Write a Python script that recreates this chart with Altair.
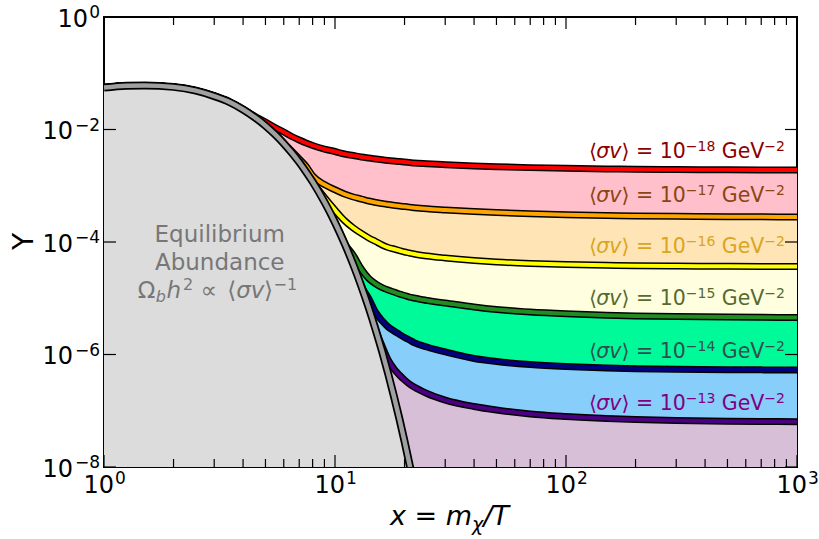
import altair as alt
import pandas as pd

# ---------------- data ----------------
X = [1, 1.25, 1.5, 2, 2.5, 3, 3.5, 4, 4.5, 5, 5.5, 6, 6.5, 7, 7.5, 8, 9, 10,
     11, 12, 13, 14, 15, 16, 17, 18, 19, 20, 21, 22, 25, 30, 40, 50, 70, 100,
     150, 200, 300, 500, 700, 1000]

# equilibrium abundance (x = 1 ... 22)
EQ = [0.0556, 0.0600, 0.0608, 0.0572, 0.0490, 0.0392, 0.0307, 0.0227, 0.0164,
      0.0117, 0.00817, 0.00565, 0.00386, 0.00262, 0.00176, 0.00118, 5.16e-4,
      2.23e-4, 9.44e-5, 3.96e-5, 1.64e-5, 6.75e-6, 2.75e-6, 1.12e-6, 4.50e-7,
      1.80e-7, 7.19e-8, 2.86e-8, 1.13e-8, 4.46e-9]

SV18 = EQ[:8] + [0.0172, 0.0136, 0.01086, 9.03e-3, 7.51e-3, 6.5e-3, 5.75e-3, 5.2e-3,
                 4.5e-3, 4.06e-3, 3.67e-3, 3.45e-3, 3.25e-3, 3.11e-3, 2.99e-3, 2.89e-3,
                 2.81e-3, 2.75e-3, 2.70e-3, 2.64e-3, 2.59e-3, 2.54e-3,
                 2.46e-3, 2.37e-3, 2.25e-3, 2.18e-3, 2.10e-3, 2.04e-3, 1.99e-3,
                 1.96e-3, 1.94e-3, 1.92e-3, 1.91e-3, 1.905e-3]
SV17 = EQ[:12] + [0.0041, 3.0e-3, 2.2e-3, 1.5e-3,
                  1.05e-3, 8.5e-4, 7.13e-4, 6.31e-4, 5.81e-4, 5.36e-4, 5.04e-4, 4.83e-4,
                  4.64e-4, 4.49e-4, 4.36e-4, 4.26e-4, 4.17e-4, 4.08e-4,
                  3.89e-4, 3.71e-4, 3.48e-4, 3.34e-4, 3.17e-4, 3.05e-4, 2.96e-4,
                  2.91e-4, 2.86e-4, 2.82e-4, 2.80e-4, 2.78e-4]
SV16 = EQ[:16] + [6.2e-4,
                  3.7e-4, 2.4e-4, 1.78e-4, 1.42e-4, 1.18e-4, 1.02e-4, 8.85e-5,
                  7.98e-5, 7.51e-5, 7.06e-5, 6.64e-5, 6.37e-5, 6.12e-5,
                  5.64e-5, 5.20e-5, 4.69e-5, 4.41e-5, 4.15e-5, 3.98e-5, 3.85e-5,
                  3.79e-5, 3.74e-5, 3.70e-5, 3.68e-5, 3.67e-5]
SV15 = EQ[:19] + [5.8e-5, 3.3e-5, 2.25e-5, 1.80e-5, 1.55e-5, 1.40e-5, 1.29e-5,
                  1.19e-5, 1.12e-5, 1.05e-5, 1.01e-5,
                  9.12e-6, 8.24e-6, 6.99e-6, 6.31e-6, 5.70e-6, 5.30e-6, 5.00e-6,
                  4.86e-6, 4.72e-6, 4.62e-6, 4.58e-6, 4.55e-6]
SV14 = EQ[:21] + [9.8e-6, 5.6e-6, 3.98e-6, 3.08e-6, 2.62e-6, 2.28e-6, 2.00e-6,
                  1.81e-6, 1.63e-6,
                  1.36e-6, 1.11e-6, 8.49e-7, 7.51e-7, 6.64e-7, 6.12e-7, 5.75e-7,
                  5.60e-7, 5.46e-7, 5.37e-7, 5.33e-7, 5.30e-7]
SV13 = EQ[:23] + [1.4e-6, 7.9e-7, 5.55e-7, 4.32e-7, 3.52e-7, 2.99e-7, 2.64e-7,
                  2.03e-7, 1.55e-7, 1.19e-7, 1.03e-7, 8.75e-8, 7.9e-8, 7.28e-8,
                  6.99e-8, 6.71e-8, 6.52e-8, 6.44e-8, 6.38e-8]

CURVES = [SV18, SV17, SV16, SV15, SV14, SV13]
SERIES = ["s18", "s17", "s16", "s15", "s14", "s13"]
LINE_COLORS = ["#FF0000", "#FFA500", "#FFFF00", "#228B22", "#000080", "#4B0082"]
FILL_COLORS = ["#FFC0CB", "#FFE4B5", "#FFFFE0", "#00FA9A", "#87CEFA", "#D8BFD8"]
LABEL_COLORS = ["#8B0000", "#8B4513", "#DAA520", "#556B2F", "#2F4F4F", "#800080"]
LABEL_EXP = ["−18", "−17", "−16", "−15", "−14", "−13"]
LABEL_Y = [3.11e-3, 5.20e-4, 6.37e-5, 7.59e-6, 8.67e-7, 1.03e-7]
LABEL_X = 887

EQ_TEXT_X = 3.17
EQ_TEXT_Y = [1.0e-4, 3.18e-5, 1.01e-5]

X_MAJOR = [1, 10, 100, 1000]
X_MAJOR_EXP = ["0", "1", "2", "3"]
X_MINOR = [2, 3, 4, 5, 6, 7, 8, 9, 20, 30, 40, 50, 60, 70, 80, 90,
           200, 300, 400, 500, 600, 700, 800, 900]
Y_MAJOR = [1, 1e-2, 1e-4, 1e-6, 1e-8]
Y_MAJOR_EXP = ["0", "−2", "−4", "−6", "−8"]

FLOOR = 1e-8
FONT = "DejaVu Sans"

# approximate DejaVu Sans advance widths (em) used to lay out mixed-size text
ADV = {" ": 0.318, "=": 0.838, "−": 0.838, "G": 0.775, "e": 0.615, "V": 0.684,
       "σ": 0.602, "v": 0.592, "⟨": 0.39, "⟩": 0.39, "Ω": 0.765, "b": 0.635,
       "h": 0.634, "∝": 0.838, "x": 0.592, "m": 0.974, "χ": 0.6, "/": 0.337, "T": 0.611}


def width(s, size):
    return sum(ADV.get(ch, 0.636) for ch in s) * size


# ---------------- tables ----------------
wide = pd.DataFrame({"x": X, "floor": [FLOOR] * len(X)})
for name, vals in zip(SERIES, CURVES):
    wide[name] = vals
long = wide.melt(id_vars=["x"], value_vars=SERIES, var_name="series", value_name="y")
eq_df = pd.DataFrame({"x": X[:len(EQ)], "y": EQ, "floor": [FLOOR] * len(EQ)})
lab_df = pd.DataFrame({"x": [LABEL_X] * 6, "y": LABEL_Y, "e": LABEL_EXP, "c": LABEL_COLORS})
xmaj = pd.DataFrame({"v": X_MAJOR, "e": X_MAJOR_EXP, "b": ["10"] * 4, "yb": [FLOOR] * 4})
xmin = pd.DataFrame({"v": X_MINOR})
ymaj = pd.DataFrame({"v": Y_MAJOR, "e": Y_MAJOR_EXP, "b": ["10"] * 5, "xl": [1] * 5})
corner = pd.DataFrame({"x": [1], "y": [FLOOR]})

xs = alt.Scale(type="log", domain=[1, 1000], nice=False)
ys = alt.Scale(type="log", domain=[FLOOR, 1], nice=False)
yaxis = alt.Axis(title="Y", labels=False, ticks=False, domain=False, grid=False,
                 titleFont=FONT, titleFontSize=28, titleFontWeight="normal",
                 titleColor="black", titleAngle=270, titleX=-80, titleY=224,
                 titleAlign="center", titleBaseline="middle")


def XE(f):
    return alt.X(f, type="quantitative", scale=xs, axis=None)


def YE(f):
    return alt.Y(f, type="quantitative", scale=ys, axis=yaxis)


layers = []
# coloured bands between successive freeze-out curves
for i in range(6):
    upper = SERIES[i]
    lower = SERIES[i + 1] if i < 5 else "floor"
    layers.append(alt.Chart(wide).mark_area(color=FILL_COLORS[i], clip=True,
                                            interpolate="monotone").encode(
        x=XE("x"), y=YE(upper), y2=alt.Y2(lower)))

# freeze-out curves: black casing + coloured core
layers.append(alt.Chart(long).mark_line(color="black", strokeWidth=7, clip=True,
                                        interpolate="monotone").encode(
    x=XE("x"), y=YE("y"), detail="series:N"))
layers.append(alt.Chart(long).mark_line(strokeWidth=4, clip=True,
                                        interpolate="monotone").encode(
    x=XE("x"), y=YE("y"),
    color=alt.Color("series:N", scale=alt.Scale(domain=SERIES, range=LINE_COLORS), legend=None)))

# equilibrium abundance
layers.append(alt.Chart(eq_df).mark_area(color="#DCDCDC", clip=True,
                                         interpolate="monotone").encode(
    x=XE("x"), y=YE("y"), y2=alt.Y2("floor")))
layers.append(alt.Chart(eq_df).mark_line(color="black", strokeWidth=8, clip=True,
                                         interpolate="monotone").encode(x=XE("x"), y=YE("y")))
layers.append(alt.Chart(eq_df).mark_line(color="#A0A0A0", strokeWidth=4.5, clip=True,
                                         interpolate="monotone").encode(x=XE("x"), y=YE("y")))

# curve labels  <σv> = 10^-n GeV^-2, assembled right to left
BASE, SUP, RAISE = 20.5, 14, -7
label_pieces = [  # (text or field, size, style, dy)
    ("⟨", BASE, "normal", 0), ("σv", BASE, "italic", 0), ("⟩ = 10", BASE, "normal", 0),
    ("@e", SUP, "normal", RAISE), (" GeV", BASE, "normal", 0), ("−2", SUP, "normal", RAISE),
]
right = 0.0
for txt, size, style, dy in reversed(label_pieces):
    w = width("−18" if txt == "@e" else txt, size)
    props = dict(align="right", baseline="alphabetic", font=FONT, fontSize=size,
                 fontStyle=style, dx=right, dy=dy)
    enc = dict(x=XE("x"), y=YE("y"), color=alt.Color("c:N", scale=None))
    if txt == "@e":
        enc["text"] = "e:N"
        mark = alt.Chart(lab_df).mark_text(**props)
    else:
        mark = alt.Chart(lab_df).mark_text(text=txt.strip(), **props)
    layers.append(mark.encode(**enc))
    right -= w

# equilibrium text
GREY_TXT = "#777777"
eqt = pd.DataFrame({"x": [EQ_TEXT_X] * 3, "y": EQ_TEXT_Y,
                    "t": ["Equilibrium", "Abundance", ""]})
layers.append(alt.Chart(eqt.iloc[:2]).mark_text(align="center", baseline="alphabetic",
                                                font=FONT, fontSize=23, color=GREY_TXT).encode(
    x=XE("x"), y=YE("y"), text="t:N"))
eq3 = eqt.iloc[2:3]
# (text, size, style, dy, extra gap after)
eq_pieces = [("Ω", 23, "normal", 0, 0.5), ("b", 16, "italic", 4, 0.5), ("h", 23, "italic", 0, 2.0),
             ("2", 16, "normal", -8, 0), (" ∝ ", 23, "normal", 0, 0), ("⟨", 23, "normal", 0, 0),
             ("σv", 23, "italic", 0, 0.5), ("⟩", 23, "normal", 0, 0.5), ("−1", 16, "normal", -8, 0)]
left = -82.0
for txt, size, style, dy, gap in eq_pieces:
    lead = len(txt) - len(txt.lstrip())
    trail = len(txt) - len(txt.rstrip())
    core = txt.strip()
    left += width(" " * lead, size)
    layers.append(alt.Chart(eq3).mark_text(align="left", baseline="alphabetic", dx=left, dy=dy,
                                           font=FONT, fontSize=size, fontStyle=style,
                                           color=GREY_TXT, text=core).encode(x=XE("x"), y=YE("y")))
    left += width(core, size) + width(" " * trail, size) + gap

# x-axis title  x = m_chi / T
title_pieces = [("x = m", 27, 0), ("χ", 19, 6), ("/T", 27, 0)]
left = 286.0
for txt, size, dy in title_pieces:
    layers.append(alt.Chart(corner).mark_text(align="left", baseline="alphabetic", dx=left,
                                              dy=58 + dy, font=FONT, fontSize=size,
                                              fontStyle="italic", color="black",
                                              text=txt).encode(x=XE("x"), y=YE("y")))
    left += width(txt, size)

# inward ticks on all four sides
tick = dict(color="black", strokeWidth=1.2)
layers.append(alt.Chart(xmaj).mark_rule(**tick).encode(x=XE("v"), y=alt.value(450), y2=alt.value(438)))
layers.append(alt.Chart(xmaj).mark_rule(**tick).encode(x=XE("v"), y=alt.value(0), y2=alt.value(12)))
layers.append(alt.Chart(xmin).mark_rule(**tick).encode(x=XE("v"), y=alt.value(450), y2=alt.value(442)))
layers.append(alt.Chart(xmin).mark_rule(**tick).encode(x=XE("v"), y=alt.value(0), y2=alt.value(8)))
layers.append(alt.Chart(ymaj).mark_rule(**tick).encode(y=YE("v"), x=alt.value(0), x2=alt.value(12)))
layers.append(alt.Chart(ymaj).mark_rule(**tick).encode(y=YE("v"), x=alt.value(693), x2=alt.value(681)))

# tick labels (10 with superscript exponent)
layers.append(alt.Chart(xmaj).mark_text(align="right", baseline="alphabetic", dx=10, dy=26,
                                        font=FONT, fontSize=24, color="black").encode(
    x=XE("v"), y=YE("yb"), text="b:N"))
layers.append(alt.Chart(xmaj).mark_text(align="left", baseline="alphabetic", dx=11, dy=17,
                                        font=FONT, fontSize=17, color="black").encode(
    x=XE("v"), y=YE("yb"), text="e:N"))
layers.append(alt.Chart(ymaj.iloc[:1]).mark_text(align="right", baseline="alphabetic", dx=-16, dy=9.5,
                                                 font=FONT, fontSize=24, color="black").encode(
    x=XE("xl"), y=YE("v"), text="b:N"))
layers.append(alt.Chart(ymaj.iloc[1:]).mark_text(align="right", baseline="alphabetic", dx=-31, dy=9.5,
                                                 font=FONT, fontSize=24, color="black").encode(
    x=XE("xl"), y=YE("v"), text="b:N"))
layers.append(alt.Chart(ymaj).mark_text(align="right", baseline="alphabetic", dx=-4, dy=1,
                                        font=FONT, fontSize=17, color="black").encode(
    x=XE("xl"), y=YE("v"), text="e:N"))

chart = alt.layer(*layers).properties(
    width=693, height=450,
    autosize=alt.AutoSizeParams(type="none"),
    padding={"left": 104, "top": 17, "right": 22, "bottom": 72},
    background="white",
).configure_view(stroke="black", strokeWidth=2)

chart.save("out.html", embed_options={"renderer": "svg", "actions": False})
